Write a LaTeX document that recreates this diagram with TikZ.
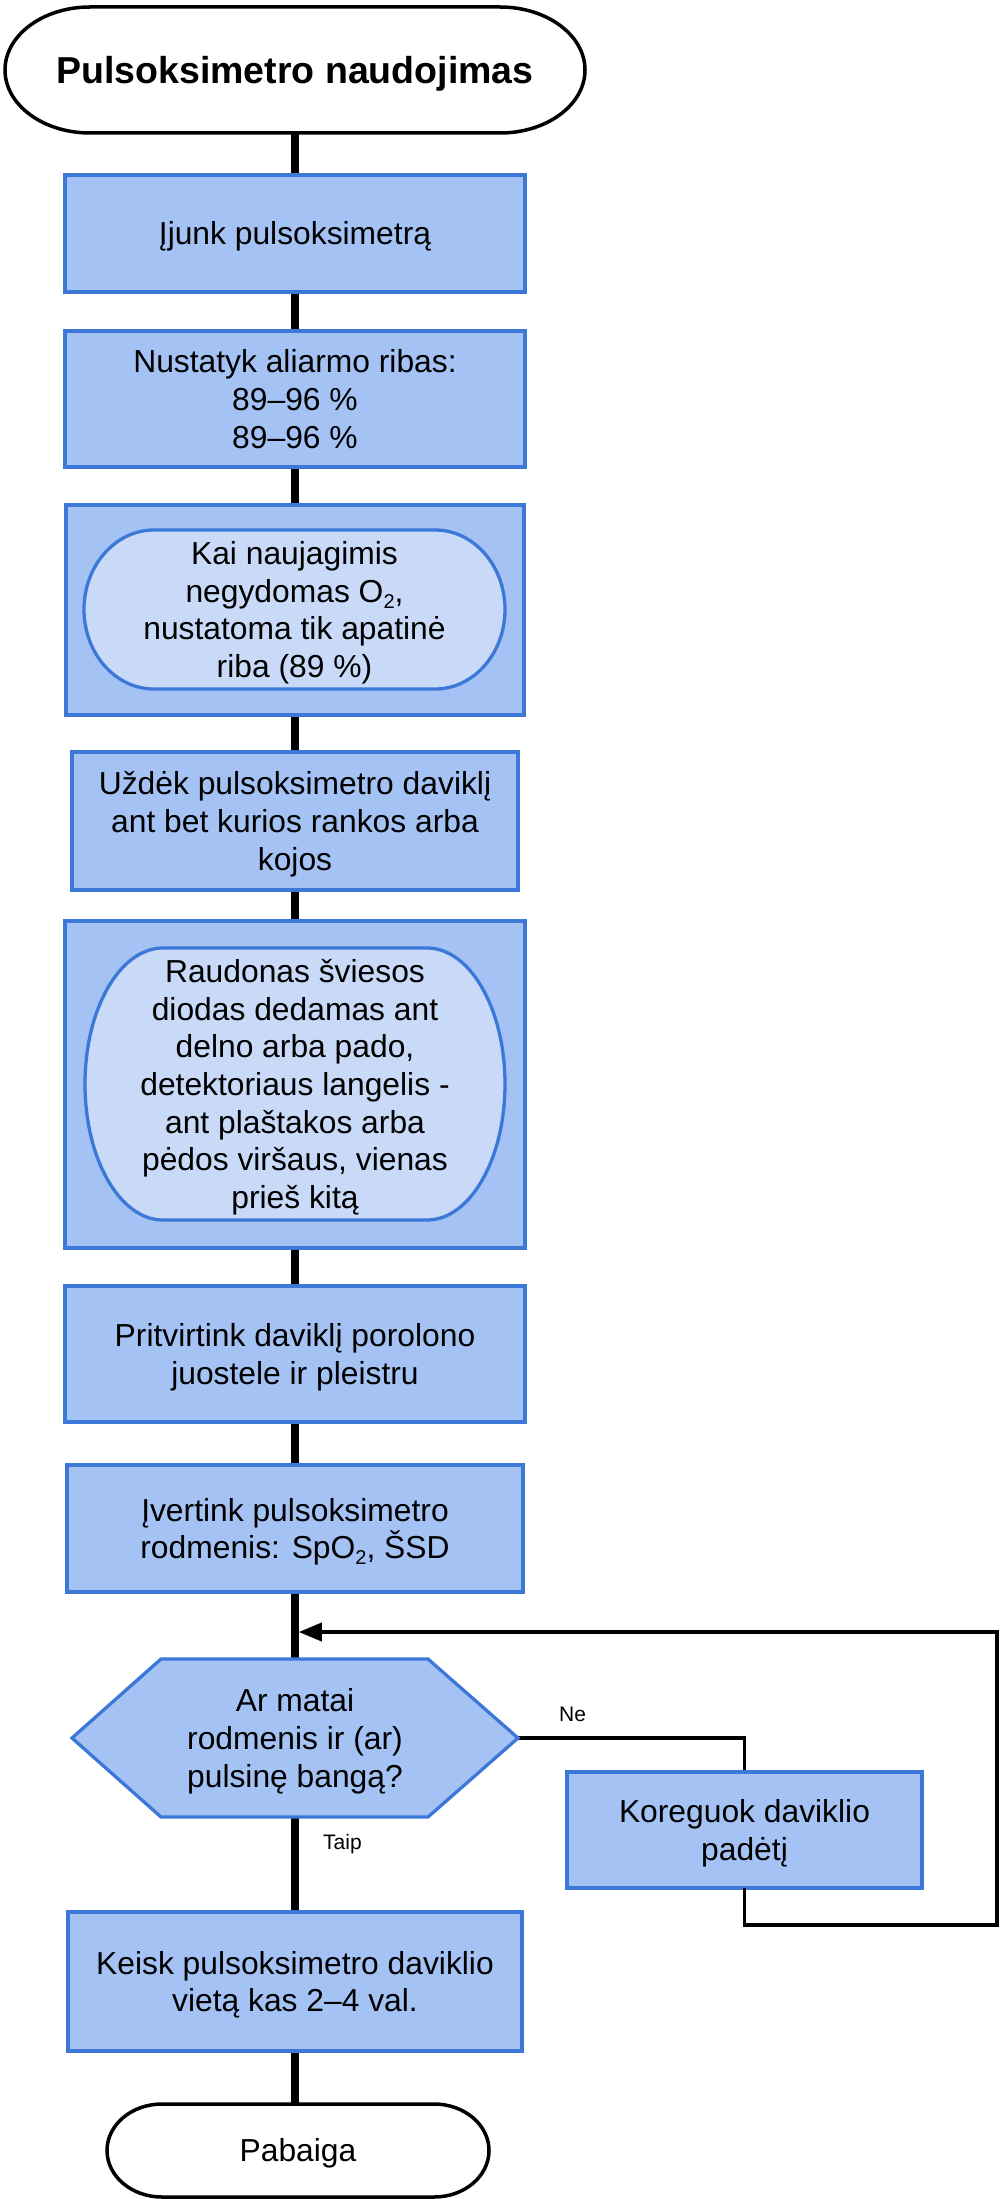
\documentclass[tikz,border=0pt]{standalone}
\usepackage{fontspec}
\setmainfont{Liberation Sans}
\usetikzlibrary{arrows.meta,backgrounds}
\definecolor{boxfill}{HTML}{A4C2F4}
\definecolor{boxline}{HTML}{3C78D8}
\definecolor{innerfill}{HTML}{C9DAF8}
\newcommand\bodyfont{\fontsize{31.8}{37.6}\selectfont}
\newcommand\lowsub[1]{\raisebox{-6pt}{\fontsize{20}{20}\selectfont #1}}
% #1 options, #2 x0, #3 y0, #4 x1, #5 y1, #6 rx (elliptical ends)
\newcommand\stadpath[6]{%
  \pgfmathsetmacro\stA{#2+#6}%
  \pgfmathsetmacro\stB{#4-#6}%
  \pgfmathsetmacro\stM{(#3+#5)/2}%
  \pgfmathsetmacro\stR{(#5-#3)/2*0.5523}%
  \pgfmathsetmacro\stK{#6*0.5523}%
  \path[#1] (\stA,#3) -- (\stB,#3)
    .. controls ({\stB+\stK},#3) and (#4,{\stM-\stR}) .. (#4,\stM)
    .. controls (#4,{\stM+\stR}) and ({\stB+\stK},#5) .. (\stB,#5)
    -- (\stA,#5)
    .. controls ({\stA-\stK},#5) and (#2,{\stM+\stR}) .. (#2,\stM)
    .. controls (#2,{\stM-\stR}) and ({\stA-\stK},#3) .. cycle;}
\tikzset{
  procbox/.style={rectangle, draw=boxline, fill=boxfill, line width=3.3pt,
    inner sep=0pt, outer sep=0pt, align=center, font=\bodyfont, text height=22.8pt, text depth=0pt},
  txt/.style={rectangle, inner sep=0pt, outer sep=0pt, align=center,
    font=\bodyfont, text height=22.8pt, text depth=0pt},
  nlines/.style={text height={22.8pt+(#1-1)*37.6pt}},
  flow/.style={line width=7.5pt},
  loopline/.style={line width=3.8pt},
  lbl/.style={font=\fontsize{21}{25}\selectfont, inner sep=0pt, anchor=base west}
}
\begin{document}
\begin{tikzpicture}[x=1pt,y=-1pt]
\useasboundingbox (0,0) rectangle (1000,2199);

% start terminal
\stadpath{draw=black, fill=white, line width=3.5pt}{5}{7}{585}{133}{85}
\node[txt, minimum width=580pt, minimum height=126pt, text height=26.9pt,
  font=\fontsize{37.5}{45}\selectfont\bfseries] (start) at (295,70) {Pulsoksimetro naudojimas};

\node[procbox, minimum width=460pt, minimum height=117pt] (b1) at (295,233.5) {Įjunk pulsoksimetrą};

\node[procbox, minimum width=460pt, minimum height=136pt, text height=98pt] (b2) at (295,399)
  {Nustatyk aliarmo ribas:\\89–96 \%\\89–96 \%};

\node[procbox, minimum width=458pt, minimum height=210pt] (b3) at (295,610) {};
\stadpath{draw=boxline, fill=innerfill, line width=3.3pt}{84}{530}{505}{689}{70}
\node[txt, text height=135.6pt] (n1) at (294.5,609.5)
  {Kai naujagimis\\negydomas O\lowsub{2},\\nustatoma tik apatinė\\riba (89 \%)};

\node[procbox, minimum width=446pt, minimum height=138pt, text height=98pt] (b4) at (295,821)
  {Uždėk pulsoksimetro daviklį\\ant bet kurios rankos arba\\kojos};

\node[procbox, minimum width=460pt, minimum height=327pt] (b5) at (295,1084.5) {};
\stadpath{draw=boxline, fill=innerfill, line width=3.3pt}{85}{948}{505}{1220}{78}
\node[txt, text height=248.4pt] (n2) at (295,1084)
  {Raudonas šviesos\\diodas dedamas ant\\delno arba pado,\\detektoriaus langelis -\\ant plaštakos arba\\pėdos viršaus, vienas\\prieš kitą};

\node[procbox, minimum width=460pt, minimum height=136pt, text height=60.4pt] (b6) at (295,1354)
  {Pritvirtink daviklį porolono\\juostele ir pleistru};

\node[procbox, minimum width=456pt, minimum height=127pt, text height=60.4pt] (b7) at (295,1528.5)
  {Įvertink pulsoksimetro\\rodmenis: SpO\lowsub{2}, ŠSD};

% decision hexagon
\path[draw=boxline, fill=boxfill, line width=3.3pt]
  (72,1738) -- (161,1659) -- (428,1659) -- (518,1738) -- (428,1817) -- (161,1817) -- cycle;
\node[txt, minimum width=446pt, minimum height=158pt, text height=98pt] (hex) at (295,1738)
  {Ar matai\\rodmenis ir (ar)\\pulsinę bangą?};

\node[procbox, minimum width=355pt, minimum height=116pt, text height=60.4pt] (kor) at (744.5,1830)
  {Koreguok daviklio\\padėtį};

\node[procbox, minimum width=454pt, minimum height=139pt, text height=60.4pt] (b8) at (295,1981.5)
  {Keisk pulsoksimetro daviklio\\vietą kas 2–4 val.};

% end terminal
\stadpath{draw=black, fill=white, line width=3.5pt}{107}{2104}{489}{2197}{55}
\node[txt, minimum width=382pt, minimum height=93pt] (end) at (298,2150.5) {Pabaiga};

% labels
\node[lbl] (ne) at (559,1721) {Ne};
\node[lbl] (taip) at (323,1849.5) {Taip};

\coordinate (loopBR) at (997,1925);
\coordinate (join) at (298.75,1632);

\begin{scope}[on background layer]
  \draw[flow] (start.south) -- (b1.north);
  \draw[flow] (b1.south) -- (b2.north);
  \draw[flow] (b2.south) -- (b3.north);
  \draw[flow] (b3.south) -- (b4.north);
  \draw[flow] (b4.south) -- (b5.north);
  \draw[flow] (b5.south) -- (b6.north);
  \draw[flow] (b6.south) -- (b7.north);
  \draw[flow] (b7.south) -- (hex.north);
  \draw[flow] (hex.south) -- (b8.north);
  \draw[flow] (b8.south) -- (b8.south |- end.north);
  \draw[loopline] (hex.east) -| (kor.north);
\end{scope}
\draw[loopline, -{Triangle[length=23pt,width=18pt]}] (kor.south) |- (loopBR) |- (join);
\end{tikzpicture}
\end{document}
